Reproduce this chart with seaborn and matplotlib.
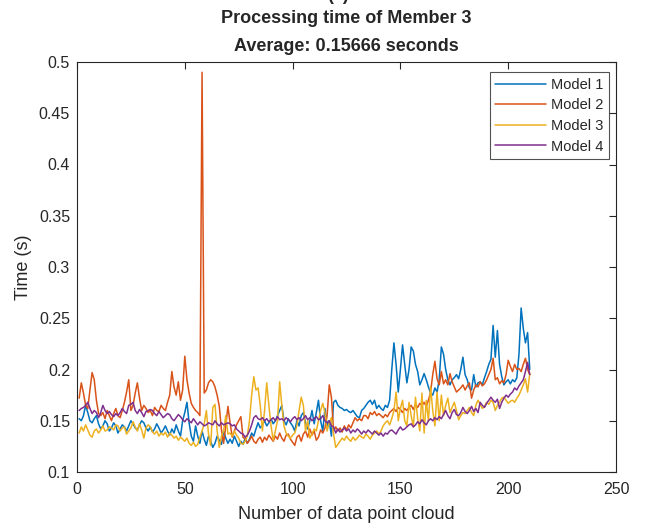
import numpy as np
import pandas as pd
import matplotlib
matplotlib.use("Agg")
import matplotlib.pyplot as plt
import seaborn as sns

# Processing time per data point cloud (seconds), one list per model
model_1 = [
    0.152, 0.150, 0.155, 0.165, 0.158, 0.150, 0.148, 0.152, 0.155, 0.147,
    0.142, 0.145, 0.150, 0.147, 0.140, 0.143, 0.148, 0.145, 0.138, 0.142,
    0.146, 0.144, 0.140, 0.145, 0.150, 0.147, 0.143, 0.141, 0.146, 0.150,
    0.148, 0.143, 0.140, 0.144, 0.139, 0.142, 0.147, 0.143, 0.138, 0.141,
    0.145, 0.140, 0.136, 0.142, 0.138, 0.146, 0.140, 0.135, 0.150, 0.158,
    0.168, 0.148, 0.135, 0.130, 0.145, 0.135, 0.128, 0.140, 0.132, 0.126,
    0.135, 0.130, 0.124, 0.128, 0.135, 0.131, 0.127, 0.140, 0.133, 0.128,
    0.132, 0.128, 0.135, 0.130, 0.125, 0.130, 0.127, 0.133, 0.128, 0.132,
    0.138, 0.135, 0.142, 0.148, 0.143, 0.146, 0.150, 0.145, 0.148, 0.152,
    0.147, 0.150, 0.155, 0.160, 0.165, 0.150, 0.146, 0.152, 0.148, 0.145,
    0.140, 0.150, 0.145, 0.155, 0.158, 0.148, 0.142, 0.150, 0.160, 0.147,
    0.158, 0.170, 0.150, 0.140, 0.162, 0.145, 0.150, 0.135, 0.168, 0.170,
    0.165, 0.163, 0.162, 0.160, 0.161, 0.159, 0.158, 0.160, 0.157, 0.154,
    0.153, 0.160, 0.162, 0.165, 0.168, 0.170, 0.166, 0.170, 0.162, 0.165,
    0.162, 0.160, 0.165, 0.163, 0.170, 0.200, 0.226, 0.205, 0.178, 0.200,
    0.224, 0.205, 0.187, 0.200, 0.222, 0.218, 0.205, 0.198, 0.185, 0.190,
    0.196, 0.190, 0.183, 0.177, 0.175, 0.182, 0.178, 0.190, 0.222, 0.215,
    0.200, 0.190, 0.185, 0.190, 0.192, 0.195, 0.191, 0.200, 0.212, 0.195,
    0.190, 0.182, 0.180, 0.195, 0.183, 0.187, 0.188, 0.185, 0.192, 0.198,
    0.205, 0.210, 0.243, 0.212, 0.238, 0.205, 0.193, 0.185, 0.188, 0.190,
    0.186, 0.190, 0.188, 0.192, 0.215, 0.260, 0.240, 0.226, 0.236, 0.200,
]
model_2 = [
    0.172, 0.187, 0.177, 0.165, 0.162, 0.180, 0.197, 0.190, 0.170, 0.157,
    0.155, 0.158, 0.152, 0.160, 0.155, 0.150, 0.157, 0.162, 0.155, 0.153,
    0.160, 0.168, 0.178, 0.190, 0.160, 0.165, 0.177, 0.187, 0.172, 0.160,
    0.165, 0.162, 0.158, 0.160, 0.155, 0.163, 0.160, 0.159, 0.165, 0.162,
    0.160, 0.168, 0.175, 0.198, 0.183, 0.175, 0.188, 0.170, 0.180, 0.213,
    0.190, 0.177, 0.167, 0.163, 0.160, 0.158, 0.155, 0.490, 0.177, 0.180,
    0.187, 0.190, 0.188, 0.183, 0.175, 0.164, 0.141, 0.128, 0.145, 0.164,
    0.148, 0.134, 0.140, 0.146, 0.150, 0.154, 0.134, 0.132, 0.128, 0.131,
    0.135, 0.130, 0.128, 0.132, 0.134, 0.129, 0.134, 0.131, 0.136, 0.133,
    0.130, 0.135, 0.132, 0.138, 0.133, 0.130, 0.136, 0.137, 0.132, 0.129,
    0.126, 0.134, 0.136, 0.130, 0.137, 0.140, 0.134, 0.142, 0.136, 0.140,
    0.131, 0.134, 0.141, 0.138, 0.143, 0.155, 0.185, 0.173, 0.140, 0.144,
    0.140, 0.143, 0.139, 0.145, 0.141, 0.146, 0.143, 0.148, 0.153, 0.150,
    0.152, 0.150, 0.155, 0.155, 0.152, 0.158, 0.156, 0.159, 0.155, 0.157,
    0.155, 0.153, 0.156, 0.154, 0.158, 0.160, 0.162, 0.159, 0.163, 0.161,
    0.158, 0.162, 0.160, 0.163, 0.165, 0.161, 0.166, 0.163, 0.167, 0.165,
    0.168, 0.164, 0.170, 0.178, 0.195, 0.208, 0.191, 0.185, 0.198, 0.186,
    0.190, 0.185, 0.196, 0.188, 0.183, 0.178, 0.180, 0.182, 0.185, 0.180,
    0.184, 0.187, 0.172, 0.180, 0.185, 0.183, 0.188, 0.184, 0.186, 0.190,
    0.195, 0.200, 0.211, 0.190, 0.192, 0.186, 0.189, 0.187, 0.195, 0.209,
    0.203, 0.198, 0.205, 0.200, 0.201, 0.198, 0.205, 0.211, 0.200, 0.195,
]
model_3 = [
    0.138, 0.144, 0.140, 0.146, 0.141, 0.136, 0.134, 0.140, 0.142, 0.138,
    0.141, 0.145, 0.140, 0.141, 0.144, 0.143, 0.141, 0.146, 0.145, 0.140,
    0.143, 0.144, 0.137, 0.140, 0.143, 0.149, 0.144, 0.140, 0.147, 0.141,
    0.133, 0.143, 0.146, 0.144, 0.139, 0.137, 0.140, 0.135, 0.138, 0.136,
    0.139, 0.134, 0.138, 0.136, 0.133, 0.135, 0.131, 0.134, 0.132, 0.130,
    0.133, 0.128, 0.126, 0.129, 0.125, 0.127, 0.134, 0.140, 0.147, 0.160,
    0.137, 0.126, 0.163, 0.166, 0.140, 0.124, 0.135, 0.140, 0.155, 0.137,
    0.138, 0.135, 0.140, 0.136, 0.133, 0.128, 0.127, 0.130, 0.135, 0.150,
    0.175, 0.193, 0.180, 0.182, 0.165, 0.140, 0.160, 0.187, 0.165, 0.145,
    0.131, 0.140, 0.150, 0.188, 0.165, 0.145, 0.138, 0.135, 0.133, 0.136,
    0.138, 0.145, 0.160, 0.173, 0.165, 0.140, 0.150, 0.133, 0.137, 0.142,
    0.140, 0.150, 0.160, 0.167, 0.158, 0.140, 0.148, 0.153, 0.137, 0.124,
    0.127, 0.130, 0.133, 0.131, 0.135, 0.132, 0.130, 0.134, 0.131, 0.133,
    0.136, 0.134, 0.133, 0.137, 0.135, 0.132, 0.136, 0.138, 0.140, 0.137,
    0.140, 0.145, 0.148, 0.150, 0.146, 0.152, 0.160, 0.178, 0.150, 0.162,
    0.170, 0.150, 0.145, 0.168, 0.155, 0.144, 0.173, 0.152, 0.140, 0.177,
    0.138, 0.170, 0.150, 0.183, 0.160, 0.145, 0.178, 0.150, 0.175, 0.155,
    0.165, 0.172, 0.158, 0.163, 0.168, 0.160, 0.151, 0.155, 0.158, 0.157,
    0.160, 0.163, 0.158, 0.155, 0.165, 0.170, 0.166, 0.162, 0.164, 0.168,
    0.166, 0.170, 0.168, 0.160, 0.165, 0.168, 0.172, 0.173, 0.170, 0.167,
    0.169, 0.170, 0.168, 0.172, 0.175, 0.180, 0.185, 0.191, 0.178, 0.196,
]
model_4 = [
    0.160, 0.162, 0.163, 0.165, 0.168, 0.162, 0.157, 0.160, 0.158, 0.153,
    0.158, 0.165, 0.160, 0.157, 0.159, 0.156, 0.154, 0.157, 0.155, 0.158,
    0.162, 0.159, 0.157, 0.165, 0.166, 0.168, 0.160, 0.157, 0.161, 0.158,
    0.154, 0.159, 0.160, 0.161, 0.160, 0.157, 0.155, 0.159, 0.156, 0.153,
    0.155, 0.157, 0.156, 0.152, 0.150, 0.153, 0.156, 0.154, 0.151, 0.149,
    0.152, 0.150, 0.148, 0.152, 0.149, 0.146, 0.149, 0.147, 0.145, 0.146,
    0.148, 0.147, 0.146, 0.150, 0.147, 0.145, 0.148, 0.146, 0.147, 0.148,
    0.147, 0.145, 0.146, 0.142, 0.140, 0.138, 0.137, 0.134, 0.136, 0.140,
    0.146, 0.153, 0.155, 0.152, 0.151, 0.153, 0.150, 0.152, 0.149, 0.151,
    0.153, 0.150, 0.154, 0.151, 0.152, 0.150, 0.153, 0.151, 0.149, 0.152,
    0.154, 0.151, 0.153, 0.150, 0.152, 0.155, 0.151, 0.153, 0.150, 0.152,
    0.154, 0.151, 0.152, 0.155, 0.150, 0.148, 0.150, 0.145, 0.144, 0.138,
    0.142, 0.139, 0.141, 0.143, 0.140, 0.142, 0.138, 0.141, 0.139, 0.142,
    0.140, 0.137, 0.140, 0.138, 0.141, 0.139, 0.137, 0.140, 0.138, 0.136,
    0.138, 0.135, 0.138, 0.137, 0.140, 0.141, 0.139, 0.137, 0.141, 0.144,
    0.141, 0.142, 0.144, 0.146, 0.147, 0.144, 0.146, 0.149, 0.147, 0.151,
    0.148, 0.146, 0.150, 0.152, 0.150, 0.153, 0.151, 0.154, 0.152, 0.156,
    0.160, 0.155, 0.152, 0.158, 0.161, 0.156, 0.155, 0.158, 0.163, 0.159,
    0.157, 0.160, 0.164, 0.159, 0.162, 0.158, 0.168, 0.165, 0.163, 0.167,
    0.170, 0.173, 0.170, 0.168, 0.171, 0.162, 0.168, 0.172, 0.175, 0.173,
    0.176, 0.178, 0.182, 0.180, 0.184, 0.187, 0.190, 0.198, 0.207, 0.195,
]

model_names = ["Model 1", "Model 2", "Model 3", "Model 4"]
model_colors = ["#0072BD", "#D95319", "#EDB120", "#7E2F8E"]
x_ticks = [0, 50, 100, 150, 200, 250]
y_ticks = [0.1, 0.15, 0.2, 0.25, 0.3, 0.35, 0.4, 0.45, 0.5]
y_tick_labels = ["0.1", "0.15", "0.2", "0.25", "0.3", "0.35", "0.4", "0.45", "0.5"]

series = [model_1, model_2, model_3, model_4]
frames = []
for name, vals in zip(model_names, series):
    frames.append(pd.DataFrame({
        "cloud": np.arange(1, len(vals) + 1),
        "time": vals,
        "model": name,
    }))
df = pd.concat(frames, ignore_index=True)

sns.set_style("white")
ink = "#262626"
plt.rcParams["font.family"] = ["Liberation Sans", "DejaVu Sans"]
plt.rcParams["text.color"] = ink
plt.rcParams["axes.labelcolor"] = ink
plt.rcParams["xtick.color"] = ink
plt.rcParams["ytick.color"] = ink

fig = plt.figure(figsize=(6.5, 5.23), dpi=100)
ax = fig.add_axes([77 / 650, 51 / 523, 539 / 650, 410 / 523])

sns.lineplot(data=df, x="cloud", y="time", hue="model",
             hue_order=model_names, palette=model_colors,
             linewidth=1.1, ax=ax, legend=False, estimator=None)

ax.set_xlim(0, 250)
ax.set_ylim(0.1, 0.5)
ax.set_xticks(x_ticks)
ax.set_xticklabels([str(t) for t in x_ticks])
ax.set_yticks(y_ticks)
ax.set_yticklabels(y_tick_labels)
ax.tick_params(direction="in", length=5, width=0.8, labelsize=11.5,
               top=True, right=True)
ax.tick_params(axis="x", pad=7)
ax.tick_params(axis="y", pad=5)

for sp in ax.spines.values():
    sp.set_color(ink)
    sp.set_linewidth(0.8)

ax.set_xlabel("Number of data point cloud", fontsize=13, labelpad=7)
ax.set_ylabel("Time (s)", fontsize=13, labelpad=5)
ax.set_title("Processing time of Member 3\nAverage: 0.15666 seconds",
             fontsize=13, fontweight="bold", linespacing=1.85, pad=8)

handles = [plt.Line2D([], [], color=c, lw=1.1) for c in model_colors]
leg = ax.legend(handles, model_names, loc="upper right",
                bbox_to_anchor=(0.987, 0.9756), borderaxespad=0.0,
                fontsize=10.5, frameon=True, fancybox=False,
                handlelength=3.45, handletextpad=0.35, borderpad=0.4,
                labelspacing=0.45)
leg.get_frame().set_edgecolor(ink)
leg.get_frame().set_linewidth(0.8)

fig.text(0.52, 0.992, "(c)", ha="center", va="bottom",
         fontsize=13, fontweight="bold")

fig.savefig("out.png", dpi=100, facecolor="white")
